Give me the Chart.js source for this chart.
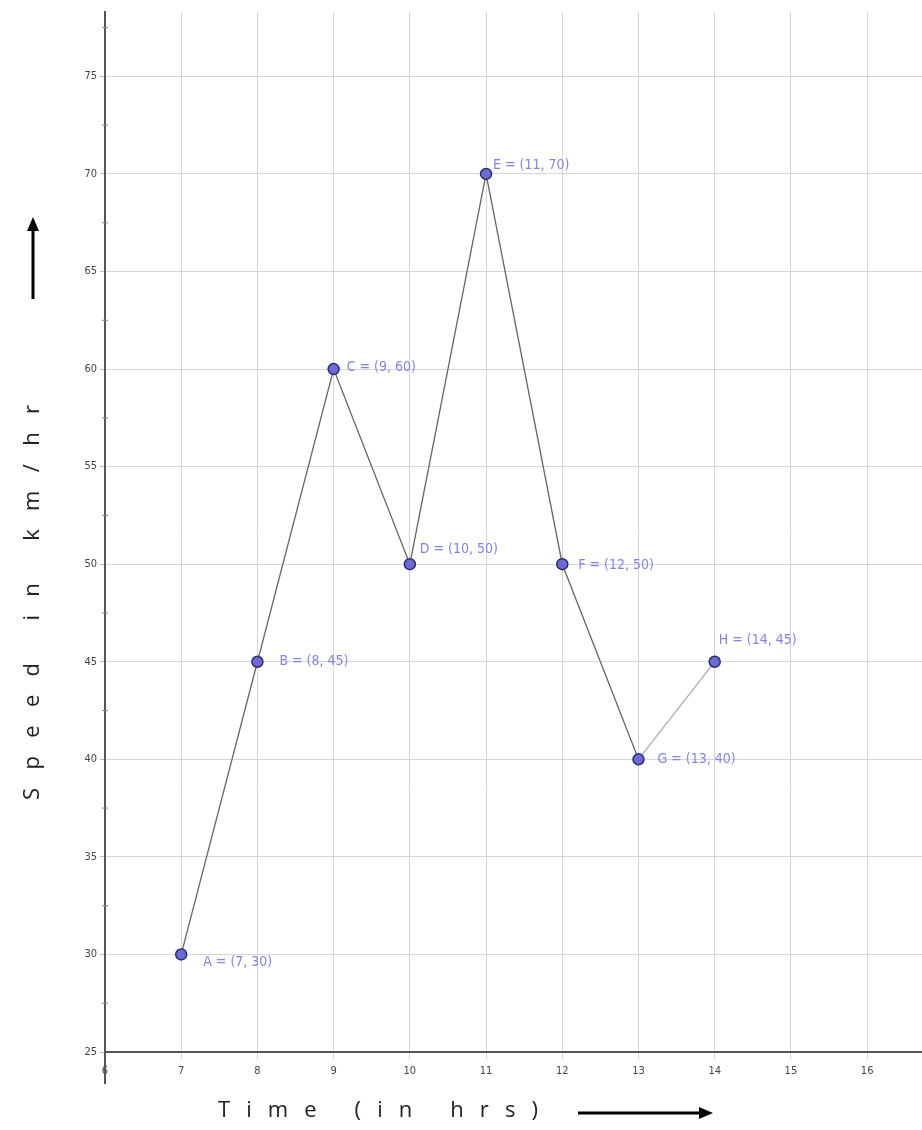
<!DOCTYPE html>
<html>
<head>
<meta charset="utf-8">
<script src="https://cdn.jsdelivr.net/npm/chart.js@4.4.1/dist/chart.umd.min.js"></script>
<style>
  html, body { margin: 0; padding: 0; background: #fff; }
  canvas { display: block; }
</style>
</head>
<body>
<canvas id="speedChart" width="922" height="1130"></canvas>
<script>
// data
const pointNames = ["A", "B", "C", "D", "E", "F", "G", "H"];
const hours = [7, 8, 9, 10, 11, 12, 13, 14];
const speeds = [30, 45, 60, 50, 70, 50, 40, 45];
const xTicks = [6, 7, 8, 9, 10, 11, 12, 13, 14, 15, 16];
const yTicks = [25, 30, 35, 40, 45, 50, 55, 60, 65, 70, 75];

// where each "A = (7, 30)" label sits relative to its point
const labelOffsets = [[22, 8], [22, 0], [13, -2], [10, -15], [7, -9], [16, 1], [19, 0], [4, -21]];

const tickFont = { family: "'DejaVu Sans Condensed', 'DejaVu Sans', sans-serif", size: 11 };
const labelColor = "#8383ee";

// draw text one char at a time, spread to fill a given width
function drawSpaced(ctx, text, x0, y, width) {
  const chars = text.split("");
  let glyphs = 0;
  chars.forEach(c => { glyphs += ctx.measureText(c).width; });
  const gap = (width - glyphs) / (chars.length - 1);
  let x = x0;
  chars.forEach(c => {
    ctx.fillText(c, x, y);
    x += ctx.measureText(c).width + gap;
  });
}

function drawArrow(ctx, x1, y1, x2, y2) {
  const ang = Math.atan2(y2 - y1, x2 - x1);
  const head = 14;
  ctx.save();
  ctx.strokeStyle = "#000";
  ctx.fillStyle = "#000";
  ctx.lineWidth = 3;
  ctx.beginPath();
  ctx.moveTo(x1, y1);
  ctx.lineTo(x2 - head * 0.7 * Math.cos(ang), y2 - head * 0.7 * Math.sin(ang));
  ctx.stroke();
  ctx.beginPath();
  ctx.moveTo(x2, y2);
  ctx.lineTo(x2 - head * Math.cos(ang) + 6 * Math.sin(ang), y2 - head * Math.sin(ang) - 6 * Math.cos(ang));
  ctx.lineTo(x2 - head * Math.cos(ang) - 6 * Math.sin(ang), y2 - head * Math.sin(ang) + 6 * Math.cos(ang));
  ctx.closePath();
  ctx.fill();
  ctx.restore();
}

const extras = {
  id: "extras",
  beforeDraw(chart) {
    const ctx = chart.ctx;
    ctx.save();
    ctx.fillStyle = "#fff";
    ctx.fillRect(0, 0, chart.width, chart.height);
    ctx.restore();
  },
  afterDatasetsDraw(chart) {
    const ctx = chart.ctx;
    const xs = chart.scales.x;
    const ys = chart.scales.y;
    ctx.save();
    ctx.font = "14px 'DejaVu Sans Condensed', 'DejaVu Sans', sans-serif";
    ctx.fillStyle = labelColor;
    ctx.textAlign = "left";
    ctx.textBaseline = "middle";
    pointNames.forEach((name, i) => {
      const px = xs.getPixelForValue(hours[i]);
      const py = ys.getPixelForValue(speeds[i]);
      ctx.fillText(name + " = (" + hours[i] + ", " + speeds[i] + ")", px + labelOffsets[i][0], py + labelOffsets[i][1]);
    });
    ctx.restore();
  },
  afterDraw(chart) {
    const ctx = chart.ctx;
    const area = chart.chartArea;
    const ys = chart.scales.y;
    ctx.save();
    // y axis runs on a bit below the x axis
    ctx.strokeStyle = "#555";
    ctx.lineWidth = 2;
    ctx.beginPath();
    ctx.moveTo(area.left, area.bottom);
    ctx.lineTo(area.left, area.bottom + 32);
    ctx.stroke();
    // minor ticks on the y axis
    ctx.lineWidth = 1;
    ctx.strokeStyle = "#888";
    for (let i = 0; i < yTicks.length; i++) {
      const py = ys.getPixelForValue(yTicks[i] + 2.5);
      if (py < area.top) break;
      ctx.beginPath();
      ctx.moveTo(area.left - 3, py);
      ctx.lineTo(area.left + 3, py);
      ctx.stroke();
    }
    // axis titles
    ctx.fillStyle = "#222";
    ctx.font = "22px 'Open Sans', 'DejaVu Sans', sans-serif";
    ctx.textBaseline = "middle";
    ctx.textAlign = "left";
    drawSpaced(ctx, "Time (in hrs)", 218, 1111, 320);
    ctx.translate(33, 800);
    ctx.rotate(-Math.PI / 2);
    drawSpaced(ctx, "Speed in km/hr", 0, 0, 395);
    ctx.restore();
    drawArrow(ctx, 578, 1113, 713, 1113);
    drawArrow(ctx, 33, 299, 33, 217);
  }
};

new Chart(document.getElementById("speedChart"), {
  type: "scatter",
  data: {
    datasets: [{
      data: hours.map((h, i) => ({ x: h, y: speeds[i] })),
      showLine: true,
      borderColor: "#666",
      borderWidth: 1.3,
      segment: {
        borderColor: c => (c.p0DataIndex === 6 ? "#b0b0b0" : "#666")
      },
      pointRadius: 5.5,
      pointBackgroundColor: "#6a6ad8",
      pointBorderColor: "#2c2c6e",
      pointBorderWidth: 1.5
    }]
  },
  options: {
    responsive: false,
    animation: false,
    devicePixelRatio: 1,
    layout: { autoPadding: false, padding: { top: 12, right: 0, left: 0, bottom: 0 } },
    plugins: {
      legend: { display: false },
      tooltip: { enabled: false }
    },
    scales: {
      x: {
        type: "linear",
        min: 6,
        max: 16.72,
        afterBuildTicks: s => { s.ticks = xTicks.map(v => ({ value: v })); },
        afterFit: s => { s.height = 78; s.paddingLeft = 0; s.paddingRight = 0; },
        ticks: { color: "#444", font: tickFont, padding: 6, maxRotation: 0 },
        grid: { color: "#d6d6d6", lineWidth: 1, tickLength: 7, tickColor: "#d6d6d6" },
        border: { color: "#555", width: 2 }
      },
      y: {
        type: "linear",
        min: 25,
        max: 78.3,
        afterBuildTicks: s => { s.ticks = yTicks.map(v => ({ value: v })); },
        afterFit: s => { s.width = 105; s.paddingTop = 0; s.paddingBottom = 0; },
        ticks: { color: "#444", font: tickFont, padding: 3 },
        grid: { color: "#d6d6d6", lineWidth: 1, tickLength: 5, tickColor: "#bbb" },
        border: { color: "#555", width: 2 }
      }
    }
  },
  plugins: [extras]
});
</script>
</body>
</html>
